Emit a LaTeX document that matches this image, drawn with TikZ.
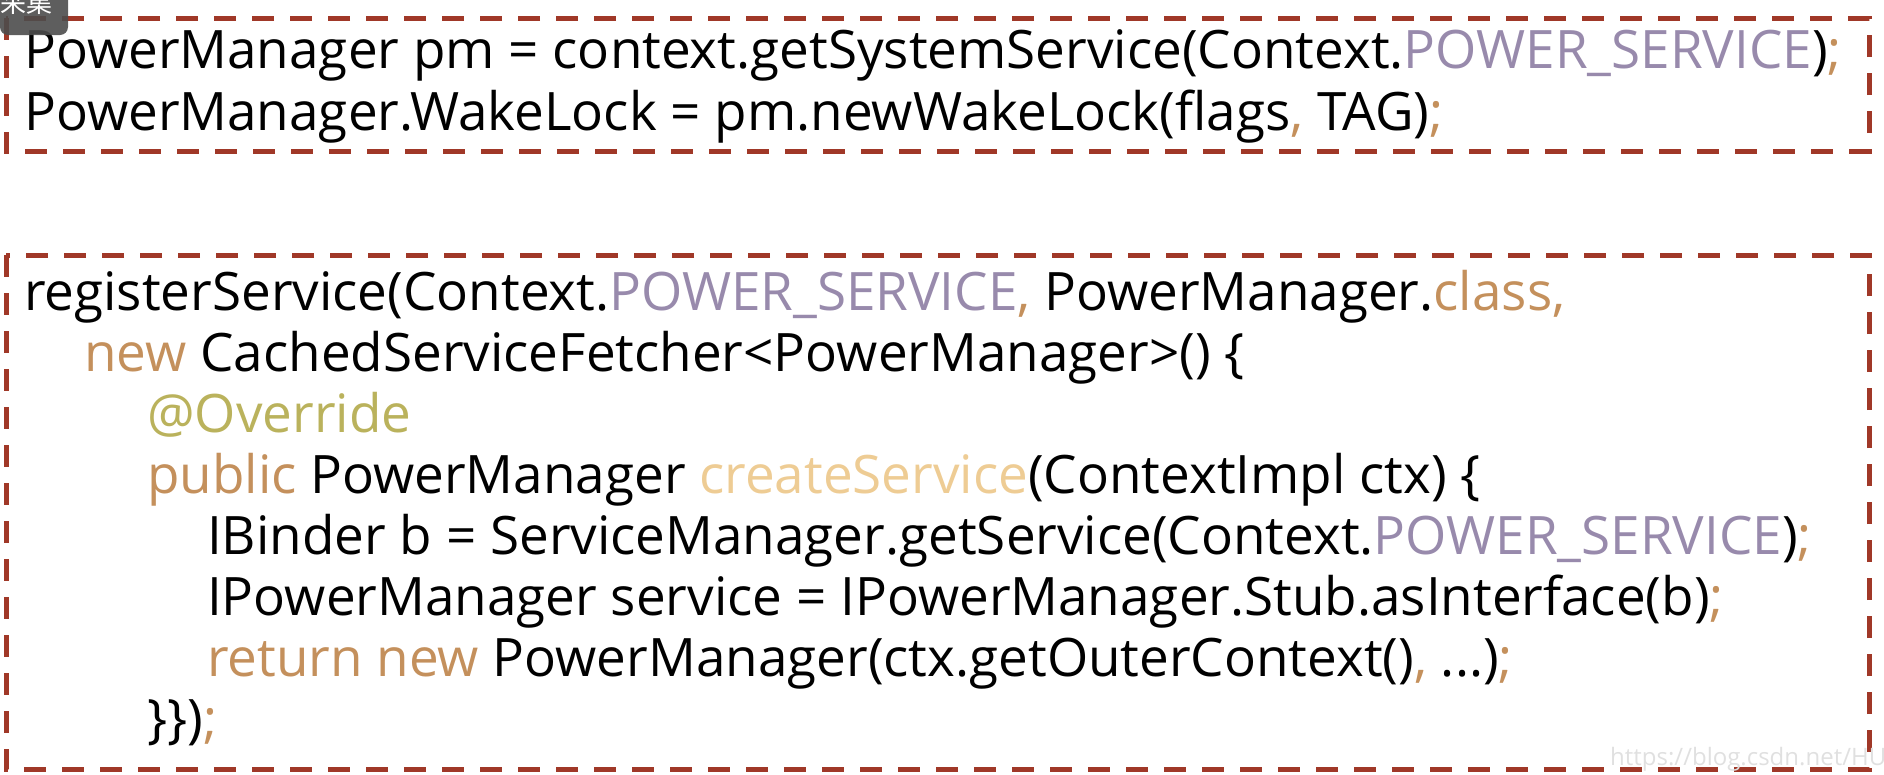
\documentclass[tikz,border=0pt]{standalone}
\usepackage{fontspec}
\setmainfont{Open Sans}
\newfontfamily\cjkfont{Noto Sans CJK SC}
\usepackage{xcolor}
\usetikzlibrary{positioning}
\definecolor{boxred}{RGB}{160,56,40}
\definecolor{kwtan}{RGB}{196,144,92}
\definecolor{cstlav}{RGB}{152,138,172}
\definecolor{annolive}{RGB}{186,178,92}
\definecolor{mthtan}{RGB}{238,204,148}
\newcommand{\kw}[1]{\textcolor{kwtan}{#1}}
\newcommand{\cst}[1]{\textcolor{cstlav}{#1}}
\newcommand{\ann}[1]{\textcolor{annolive}{#1}}
\newcommand{\mth}[1]{\textcolor{mthtan}{#1}}
\tikzset{
  codebox/.style={draw=boxred, line width=5pt, dash pattern=on 22pt off 16pt},
  codeline/.style={anchor=base west, inner sep=0pt, font=\fontsize{53}{62}\selectfont}
}

\begin{document}
\begin{tikzpicture}[x=1pt,y=-1pt]
    \useasboundingbox (0,0) rectangle (1884,774);
    \draw[codebox] (6,18) rectangle (1869,151);
    \draw[codebox] (6,255) rectangle (1869,769);
    % top box
    \node[codeline] (l1) at (24,68) {PowerManager pm = context.getSystemService(Context.\cst{POWER\_SERVICE})\kw{;}};
    \node[codeline] (l2) at (24,130) {PowerManager.WakeLock = pm.newWakeLock(flags\kw{,} TAG)\kw{;}};
    % bottom box
    \node[codeline] (r1) at (24,310) {registerService(Context.\cst{POWER\_SERVICE}\kw{,} PowerManager.\kw{class,}};
    \node[codeline] (r2) at (84,371) {\kw{new} CachedServiceFetcher<PowerManager>() \{};
    \node[codeline] (r3) at (147,432) {\ann{@Override}};
    \node[codeline] (r4) at (147,493) {\kw{public} PowerManager \mth{createService}(ContextImpl ctx) \{};
    \node[codeline] (r5) at (207,554) {IBinder b = ServiceManager.getService(Context.\cst{POWER\_SERVICE})\kw{;}};
    \node[codeline] (r6) at (207,615) {IPowerManager service = IPowerManager.Stub.asInterface(b)\kw{;}};
    \node[codeline] (r7) at (207,676) {\kw{return new} PowerManager(ctx.getOuterContext()\kw{,} ...)\kw{;}};
    \node[codeline] (r8) at (147,737) {\}\})\kw{;}};
    % overlays
    \fill[black!70, opacity=0.9, rounded corners=8pt] (0,-10) rectangle (68,35);
    \node[anchor=base west, inner sep=0pt, text=white, font=\cjkfont\fontsize{26}{26}\selectfont] (tag) at (0,12) {采集};
    \node[anchor=base west, inner sep=0pt, text=black!12, font=\fontsize{24}{24}\selectfont] (mark) at (1610,765) {https://blog.csdn.net/HUandroid};
\end{tikzpicture}
\end{document}
